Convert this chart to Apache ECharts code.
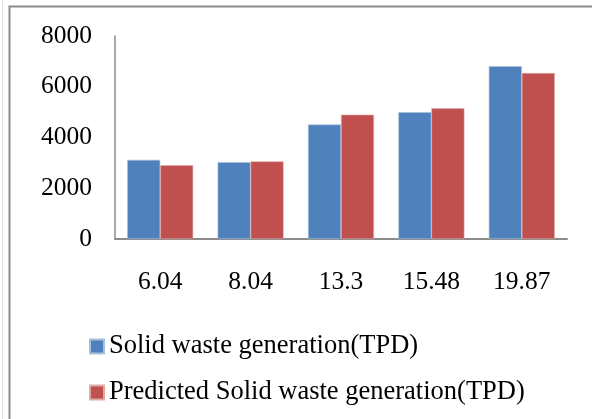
<!DOCTYPE html>
<html>
<head>
<meta charset="utf-8">
<script src="https://cdn.jsdelivr.net/npm/echarts@6/dist/echarts.min.js"></script>
<style>
html,body{margin:0;padding:0;background:#fff;}
#c{width:592px;height:419px;}
</style>
</head>
<body>
<div id="c"></div>
<script>
var categories = ['6.04', '8.04', '13.3', '15.48', '19.87'];
var actualValues = [3120, 3030, 4510, 5000, 6810];
var predictedValues = [2910, 3060, 4900, 5150, 6540];
var seriesNames = ['Solid waste generation(TPD)', 'Predicted Solid waste generation(TPD)'];
var yTicks = { min: 0, max: 8000, interval: 2000 };

var FONT = '"Liberation Serif", "Times New Roman", serif';
var chart = echarts.init(document.getElementById('c'), null, { renderer: 'canvas' });
chart.setOption({
  animation: false,
  backgroundColor: '#ffffff',
  graphic: [{
    type: 'rect',
    shape: { x: 9.5, y: 6.5, width: 700, height: 600 },
    style: { fill: 'none', stroke: '#8c8c8c', lineWidth: 2 },
    silent: true
  }, {
    type: 'line',
    shape: { x1: 2.5, y1: 0, x2: 2.5, y2: 419 },
    style: { stroke: '#e0e0e0', lineWidth: 1 },
    silent: true
  }],
  grid: { left: 115, top: 36, right: 25, height: 203, containLabel: false },
  legend: {
    orient: 'vertical',
    left: 84,
    top: 328,
    itemWidth: 14,
    itemHeight: 14,
    itemGap: 19,
    icon: 'rect',
    textStyle: { fontFamily: FONT, fontSize: 26.5, color: '#000' },
    data: seriesNames
  },
  xAxis: {
    type: 'category',
    data: categories,
    axisLine: { lineStyle: { color: '#8c8c8c', width: 2 } },
    axisTick: { show: false },
    axisLabel: { fontFamily: FONT, fontSize: 25.5, color: '#000', margin: 30 }
  },
  yAxis: {
    type: 'value',
    min: yTicks.min,
    max: yTicks.max,
    interval: yTicks.interval,
    axisLine: { show: true, lineStyle: { color: '#8c8c8c', width: 1.5 } },
    axisTick: { show: false },
    splitLine: { show: false },
    axisLabel: { fontFamily: FONT, fontSize: 25.5, color: '#000', margin: 23, formatter: function (v) { return String(v); } }
  },
  series: [{
    name: seriesNames[0],
    type: 'bar',
    data: actualValues,
    barGap: '0%',
    barCategoryGap: '27%',
    itemStyle: { color: '#4F81BD', borderColor: '#a9bfdc', borderWidth: 0.6 }
  }, {
    name: seriesNames[1],
    type: 'bar',
    data: predictedValues,
    barGap: '0%',
    barCategoryGap: '27%',
    itemStyle: { color: '#C0504D', borderColor: '#e0a9a7', borderWidth: 0.6 }
  }]
});
</script>
</body>
</html>
